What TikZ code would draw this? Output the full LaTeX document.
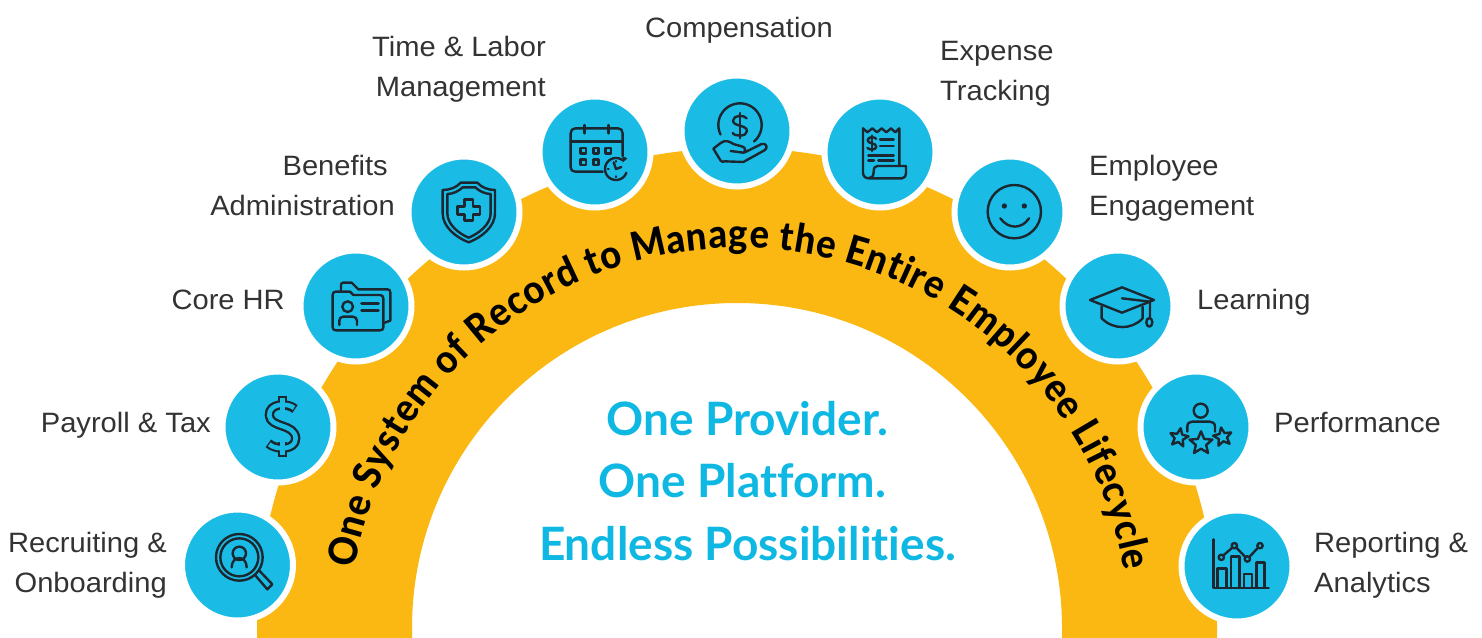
\documentclass[tikz,border=0pt]{standalone}
\usepackage{fontspec}
\setmainfont[FakeStretch=1.04]{Liberation Sans}
\newfontfamily\headfont[Ligatures=NoCommon]{Lato}
\newfontfamily\arcfont[FakeStretch=0.92]{Lato Heavy}
\usetikzlibrary{decorations.text}
\definecolor{hubblue}{HTML}{1ABCE6}
\definecolor{archyellow}{HTML}{FBB813}
\definecolor{headblue}{HTML}{0FB8E2}
\definecolor{labelgray}{HTML}{333333}
\definecolor{iconink}{HTML}{1C2730}
\tikzset{
  x=1pt,y=1pt,
  hub/.style={circle,minimum size=111pt,inner sep=0pt,fill=hubblue,draw=white,line width=6pt},
  lab/.style={inner sep=0pt,text=labelgray,font=\fontsize{28}{40}\selectfont},
  labr/.style={lab,align=right,anchor=east},
  labl/.style={lab,align=left,anchor=west},
  zoomL/.style={shift={(180,-250)},x=0.33333pt,y=-0.33333pt,icon},
  zoomT/.style={shift={(400,-70)},x=0.33333pt,y=-0.33333pt,icon},
  zoomR/.style={shift={(680,-70)},x=0.33333pt,y=-0.33333pt,icon},
  zoomB/.style={shift={(1050,-250)},x=0.33333pt,y=-0.33333pt,icon},
  icon/.style={draw=iconink,line width=2.4pt,line join=round,line cap=round},
}
\newcommand\starat[4]{%
  \draw[rotate around={#4:(#1,#2)}] plot[samples at={0,1,...,9},variable=\k]
   ({#1+(mod(\k,2)==0?#3:#3*0.45)*sin(36*\k)},{#2-(mod(\k,2)==0?#3:#3*0.45)*cos(36*\k)}) -- cycle;}
\newcommand\smalldollar[3]{% centre x, centre y, scale
  \begin{scope}[shift={(#1,#2)},scale=#3]
  \draw (20,-22) .. controls (14,-32) and (-20,-34) .. (-21,-15) .. controls (-21,3) and (21,-3) .. (21,16) .. controls (21,34) and (-16,33) .. (-22,22);
  \draw (0,-38) -- (0,38);
  \end{scope}}
\begin{document}
\begin{tikzpicture}
\useasboundingbox (0,0) rectangle (1482,-637);
\clip (0,0) rectangle (1482,-637);
% arch
\fill[archyellow] (257,-645) -- (257,-628) arc[start angle=180,end angle=0,radius=480]
  -- (1217,-645) -- (1062,-645) -- (1062,-628) arc[start angle=0,end angle=180,radius=325]
  -- (412,-645) -- cycle;
% curved title
\path[decorate,decoration={text along path,text align={fit to path},
  text={|\arcfont\fontsize{39.5}{39}\selectfont|One System of Record to Manage the Entire Employee Lifecycle}}]
  (739,-633) ++(170.4:390 and 385) arc[start angle=170.4,end angle=9.3,x radius=390,y radius=385];
% hubs
\node[hub] (recruit) at (237.5,-565) {};
\node[hub] (payroll) at (278,-427) {};
\node[hub] (corehr) at (356,-306) {};
\node[hub] (benefits) at (464,-212) {};
\node[hub] (timelabor) at (595,-152) {};
\node[hub] (comp) at (737,-131) {};
\node[hub] (expense) at (880,-152) {};
\node[hub] (engage) at (1010,-212) {};
\node[hub] (learning) at (1118,-306) {};
\node[hub] (perform) at (1196,-427) {};
\node[hub] (report) at (1237,-566) {};
% labels
\node[labr] (lrecruit) at (167,-565) {Recruiting \&\\Onboarding};
\node[labr] (lpayroll) at (211,-425) {Payroll \& Tax};
\node[labr] (lcorehr) at (285,-300) {Core HR};
\node[labr] (lbenefits) at (395,-185) {Benefits\hspace*{7pt}\\Administration};
\node[labr] (ltime) at (546,-69) {Time \& Labor\\Management};
\node[lab] (lcomp) at (739,-30) {Compensation};
\node[labl] (lexpense) at (940,-74) {Expense\\Tracking};
\node[labl] (lengage) at (1089,-188) {Employee\\Engagement};
\node[labl] (llearning) at (1197,-302) {Learning};
\node[labl] (lperform) at (1274,-422) {Performance};
\node[labl] (lreport) at (1314,-565) {Reporting \&\\Analytics};
% centre text
\node[inner sep=0pt,text=headblue,align=center,font=\headfont\bfseries\fontsize{46}{62.5}\selectfont] (headline) at (747.5,-481)
  {One Provider.\\One Platform.\kern10pt\hbox{}\\Endless Possibilities.};
% --- icons, in zoom-crop coordinates ---
% recruiting
\begin{scope}[zoomL]
\draw (178,922) circle[radius=70];
\draw (178,922) circle[radius=57];
\draw (178,910) circle[radius=20];
\draw (155,952) .. controls (155,915) and (200,915) .. (200,952);
\draw (225,975) -- (262,1018) -- (277,1003) -- (238,962);
\end{scope}
% payroll
\begin{scope}[zoomL]
\draw[line width=9.4pt,line cap=butt,draw=iconink] (345,477) .. controls (325,458) and (265,458) .. (268,497) .. controls (272,535) and (345,520) .. (347,565) .. controls (348,602) and (285,600) .. (265,580);
\draw[line width=9.4pt,line cap=butt,draw=iconink] (308,437) -- (308,480) (308,575) -- (308,622);
\draw[line width=4.6pt,line cap=butt,draw=hubblue] (308,445) -- (308,480) (308,575) -- (308,614);
\draw[line width=4.6pt,line cap=butt,draw=hubblue] (342,474) .. controls (325,458) and (265,458) .. (268,497) .. controls (272,535) and (345,520) .. (347,565) .. controls (348,602) and (285,600) .. (268,583);
\end{scope}
% core hr
\begin{scope}[zoomL]
\draw (483,122) -- (483,105) .. controls (483,100) and (485,98) .. (490,98) -- (515,98) -- (535,118) -- (622,118) .. controls (628,118) and (631,121) .. (631,127) -- (631,212) -- (611,219);
\draw (467,125) -- (510,125) -- (520,135) -- (600,135) .. controls (606,135) and (610,139) .. (610,145) -- (610,232) .. controls (610,238) and (606,241) .. (600,241) -- (468,241) .. controls (462,241) and (458,238) .. (458,232) -- (458,134) .. controls (458,128) and (462,125) .. (467,125);
\draw (503,170) circle[radius=16];
\draw (478,225) -- (478,212) .. controls (478,205) and (482,200) .. (490,200) -- (518,200) .. controls (526,200) and (531,205) .. (531,212) -- (531,225);
\draw[line width=3pt] (545,160) -- (595,160) (545,180) -- (595,180);
\end{scope}
% benefits
\begin{scope}[zoomT]
\draw (128,360) .. controls (150,360) and (170,352) .. (182,338) -- (232,338) .. controls (244,352) and (264,360) .. (285,360) -- (285,430) .. controls (285,470) and (245,502) .. (206,517) .. controls (167,502) and (128,470) .. (128,430) -- cycle;
\draw (142,372) .. controls (160,372) and (178,362) .. (188,352) -- (226,352) .. controls (236,362) and (254,372) .. (272,372) -- (272,430) .. controls (272,462) and (238,490) .. (206,503) .. controls (174,490) and (142,462) .. (142,430) -- cycle;
\draw (193,388) -- (219,388) -- (219,410) -- (240,410) -- (240,434) -- (219,434) -- (219,452) -- (193,452) -- (193,434) -- (172,434) -- (172,410) -- (193,410) -- cycle;
\end{scope}
% time & labor
\begin{scope}[zoomT]
\draw (608,305) -- (526,305) .. controls (517,305) and (512,300) .. (512,292) -- (512,190) .. controls (512,181) and (517,175) .. (526,175) -- (654,175) .. controls (663,175) and (668,181) .. (668,190) -- (668,258);
\draw (512,215) -- (668,215);
\draw (553,165) -- (553,190) (625,165) -- (625,190);
\foreach \qx/\qy in {550/242,588/242,625/242,550/277,588/277}
  \draw (\qx-8,\qy-8) rectangle (\qx+8,\qy+8);
\draw plot[domain=20:305,samples=30,variable=\t] ({648+33*cos(\t)},{297+33*sin(\t)});
\fill[iconink,draw=none] (667,258) -- (682,265) -- (668,278) -- cycle;
\draw (641,277) -- (648,297) -- (664,291);
\draw[line width=1.4pt] (648,272) -- (648,276) (648,318) -- (648,322) (623,297) -- (627,297);
\end{scope}
% compensation
\begin{scope}[zoomR]
\draw plot[domain=154:410,samples=40,variable=\t] ({180+65*cos(\t)},{165+65*sin(\t)});
\smalldollar{180}{167}{1}
\draw (152,243) -- (190,248) .. controls (197,246) and (197,232) .. (188,230) -- (160,222) .. controls (150,215) and (135,208) .. (122,219) -- (100,236) -- (122,272) .. controls (125,276) and (130,276) .. (135,274) -- (190,276) -- (255,240) .. controls (265,232) and (258,218) .. (245,222) -- (192,248);
\end{scope}
% expense
\begin{scope}[zoomR]
\draw (549,175) -- (562,187) -- (577,175) -- (591,187) -- (605,175) -- (619,187) -- (633,175) -- (646,187) -- (658,175) -- (658,286);
\draw (549,175) -- (549,308) .. controls (549,318) and (556,325) .. (566,325) -- (666,325) .. controls (674,325) and (678,318) .. (678,310) -- (678,288) -- (592,288) .. controls (584,288) and (581,295) .. (581,305) .. controls (581,318) and (575,325) .. (566,325);
\smalldollar{576}{220}{0.62}
\draw (600,208) -- (641,208) (600,228) -- (641,228);
\draw (565,256) -- (641,256) (565,272) -- (582,272) (595,272) -- (641,272);
\end{scope}
% engagement
\begin{scope}[zoomR]
\draw (1003,425) circle[radius=80];
\fill[iconink,draw=none] (973,408) circle[radius=8];
\fill[iconink,draw=none] (1033,408) circle[radius=8];
\draw (961,445) .. controls (985,478) and (1025,478) .. (1047,445);
\end{scope}
% learning
\begin{scope}[zoomB]
\draw (120,150) -- (216,112) -- (312,150) -- (216,188) -- cycle;
\draw (155,170) -- (155,205) .. controls (190,240) and (245,240) .. (278,205) -- (278,170);
\draw (216,145) -- (300,155) -- (300,205);
\draw (298,217) ellipse[x radius=9,y radius=13];
\end{scope}
% performance
\begin{scope}[zoomB]
\draw (452,482) circle[radius=21];
\draw (412,545) -- (412,530) .. controls (412,520) and (418,515) .. (426,515) -- (480,515) .. controls (488,515) and (495,520) .. (495,530) -- (495,545);
\starat{387}{563}{29}{-10}
\starat{453}{580}{36}{0}
\starat{518}{561}{29}{10}
\end{scope}
% reporting
\begin{scope}[zoomB]
\draw (491,868) -- (491,1014) -- (656,1014);
\draw (503,1014) -- (503,955) -- (530,955) -- (530,1014);
\draw (543,1014) -- (543,920) -- (568,920) -- (568,1014);
\draw (582,1014) -- (582,972) -- (606,972) -- (606,1014);
\draw (620,1014) -- (620,938) -- (644,938) -- (644,1014);
\draw (514,922) circle[radius=8] (553,887) circle[radius=8] (592,927) circle[radius=8] (630,887) circle[radius=8];
\draw (520,916) -- (547,893) (559,893) -- (586,921) (598,921) -- (624,893);
\end{scope}
\end{tikzpicture}
\end{document}
